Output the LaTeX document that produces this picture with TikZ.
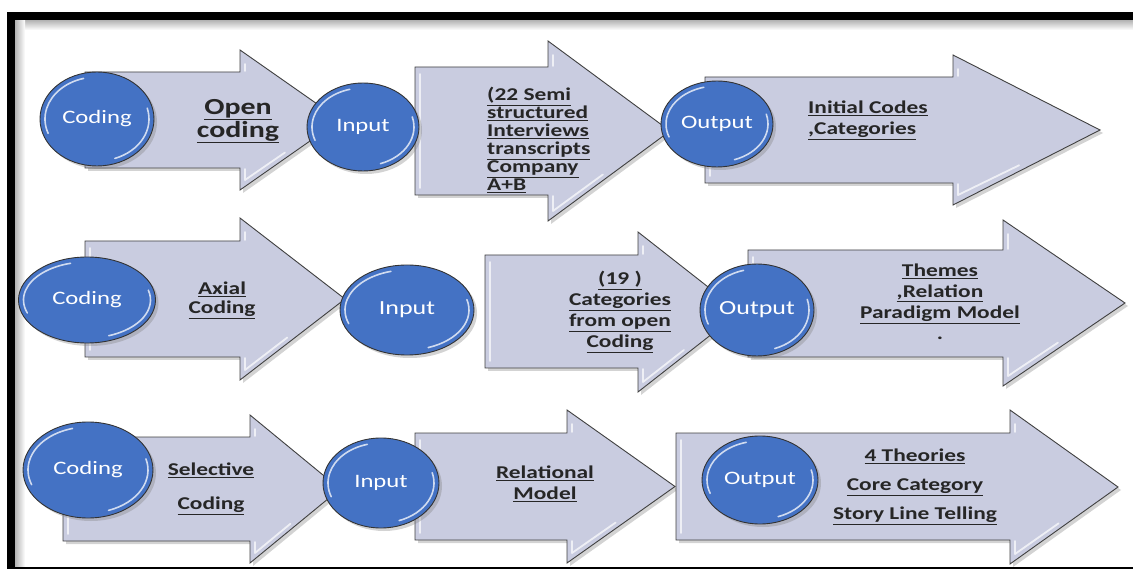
\documentclass[tikz,border=0pt]{standalone}
\usepackage{fontspec}
\setmainfont{Carlito}[FakeStretch=1.3]
\usetikzlibrary{shapes.geometric,shadows,calc}

\definecolor{arrowfill}{RGB}{201,204,224}
\definecolor{bubbleblue}{RGB}{68,114,196}

% white rim light inside the blue bubbles
\newcommand{\gloss}{%
    \draw[white, opacity=.75, line width=1.6pt, line cap=round]
        let \p1=(path picture bounding box.south west),
            \p2=(path picture bounding box.north east),
            \p3=($(\p1)!.5!(\p2)$),
            \n1={(\x2-\x1)/2-5pt},
            \n2={(\y2-\y1)/2-5pt}
        in ($(\p3)+(105:\n1 and \n2)$) arc[start angle=105, end angle=200, x radius=\n1, y radius=\n2]
           ($(\p3)+(-70:\n1 and \n2)$) arc[start angle=-70, end angle=15, x radius=\n1, y radius=\n2];%
}

% big arrow: left, body top, body bottom, head base, head top, head bottom, tip
\newcommand{\bigarrow}[7]{%
    \draw[blockarrow] (#1,#2) -- (#4,#2) -- (#4,#5) -- (#7,{(#5+#6)/2}) -- (#4,#6) -- (#4,#3) -- (#1,#3) -- cycle;
    \draw[shine] (#1+5,#2+7) -- (#1+5,#3-7);
    \draw[shine] (#4+5,#5+14) -- (#4+5,#2-1);
    \draw[shine] (#4+5,#3+1) -- (#4+5,#6-10) -- ({#4+0.45*(#7-#4)},{#6+0.45*((#5+#6)/2-#6)-6});%
}

\tikzset{%
        bubble/.style={
                ellipse,
                draw=black!80,
                line width=0.9pt,
                fill=bubbleblue,
                text=white,
                inner sep=0pt,
                font=\fontsize{19}{21}\selectfont,
                drop shadow={shadow xshift=3pt, shadow yshift=-3pt, opacity=.35},
                path picture={\gloss}
            },
        blockarrow/.style={
                draw=black!75,
                line width=0.9pt,
                fill=arrowfill,
                drop shadow={shadow xshift=3pt, shadow yshift=-3pt, opacity=.35}
            },
        shine/.style={
                draw=white,
                opacity=.7,
                line width=1.8pt,
                line cap=round,
                line join=round
            },
        arrowtext/.style={
                font=\bfseries\fontsize{18}{19}\selectfont,
                text=black!85,
                inner sep=0pt
            }
    }

\begin{document}
\begin{tikzpicture}[x=1pt, y=-1pt]
    \useasboundingbox (0,0) rectangle (1133,569);

    % frame:
        \shade[top color=black!30, bottom color=white] (15,20) rectangle (1133,30);
        \shade[left color=black!30, right color=white] (15,20) rectangle (25,566);
        \fill[black] (7,12) rectangle (1133,20);
        \fill[black] (7,12) rectangle (15,569);
        \fill[black] (15,566.5) rectangle (1133,569);

    % open coding:
        \bigarrow{85}{72}{168}{240}{50}{190}{340}
        \bigarrow{415}{67}{195}{548}{41}{221}{670}
        \bigarrow{705}{77}{183}{953}{55}{205}{1100}

        \node [bubble, minimum width=114pt, minimum height=94pt]  (cod1) at (97,119) {Coding};
        \node [bubble, minimum width=112pt, minimum height=88pt]  (in1) at (363,127) {Input};
        \node [bubble, minimum width=112pt, minimum height=86pt]  (out1) at (717,124) {Output};

        \node [arrowtext, font=\bfseries\fontsize{23}{23}\selectfont, align=center]  (step1) at (238,121) {\underline{Open}\\\underline{coding}};
        \node [arrowtext, font=\bfseries\fontsize{18}{18}\selectfont, align=left, anchor=west]  (in1txt) at (487,140) {\underline{(22 Semi}\\\underline{structured}\\\underline{Interviews}\\\underline{transcripts}\\\underline{Company}\\\underline{A+B}};
        \node [arrowtext, font=\bfseries\fontsize{18}{21}\selectfont, align=left, anchor=west]  (out1txt) at (808,120) {\underline{Initial Codes}\\\underline{,Categories}};

    % axial coding:
        \bigarrow{85}{241}{357}{240}{218}{380}{345}
        \bigarrow{485}{255}{368}{638}{232}{392}{740}
        \bigarrow{748}{250}{357}{1003}{220}{386}{1125}

        \node [bubble, minimum width=137pt, minimum height=86pt]  (cod2) at (87,300) {Coding};
        \node [bubble, minimum width=134pt, minimum height=90pt, font=\fontsize{20}{22}\selectfont]  (in2) at (407,310) {Input};
        \node [bubble, minimum width=114pt, minimum height=92pt, font=\fontsize{20}{22}\selectfont]  (out2) at (757,310) {Output};

        \node [arrowtext, align=center]  (step2) at (222,300) {\underline{Axial}\\\underline{Coding}};
        \node [arrowtext, font=\bfseries\fontsize{18}{21}\selectfont, align=center]  (in2txt) at (620,312) {\underline{(19 )}\\\underline{Categories}\\\underline{from open}\\\underline{Coding}};
        \node [arrowtext, font=\bfseries\fontsize{18}{21}\selectfont, align=center]  (out2txt) at (940,302) {\underline{Themes}\\\underline{,Relation}\\\underline{Paradigm Model}\\.};

    % selective coding:
        \bigarrow{63}{437}{541}{250}{415}{563}{340}
        \bigarrow{415}{433}{540}{567}{410}{563}{675}
        \bigarrow{676}{433}{540}{1010}{410}{564}{1118}

        \node [bubble, minimum width=130pt, minimum height=96pt]  (cod3) at (88,470) {Coding};
        \node [bubble, minimum width=116pt, minimum height=90pt]  (in3) at (381,483) {Input};
        \node [bubble, minimum width=116pt, minimum height=88pt]  (out3) at (760,480) {Output};

        \node [arrowtext, font=\bfseries\fontsize{18}{34}\selectfont, align=center]  (step3) at (211,489) {\underline{Selective}\\\underline{Coding}};
        \node [arrowtext, font=\bfseries\fontsize{18}{21}\selectfont, align=center]  (in3txt) at (545,484) {\underline{Relational}\\\underline{Model}};
        \node [arrowtext, font=\bfseries\fontsize{18}{29}\selectfont, align=center]  (out3txt) at (915,487) {\underline{4 Theories}\\\underline{Core Category}\\\underline{Story Line Telling}};
\end{tikzpicture}
\end{document}
